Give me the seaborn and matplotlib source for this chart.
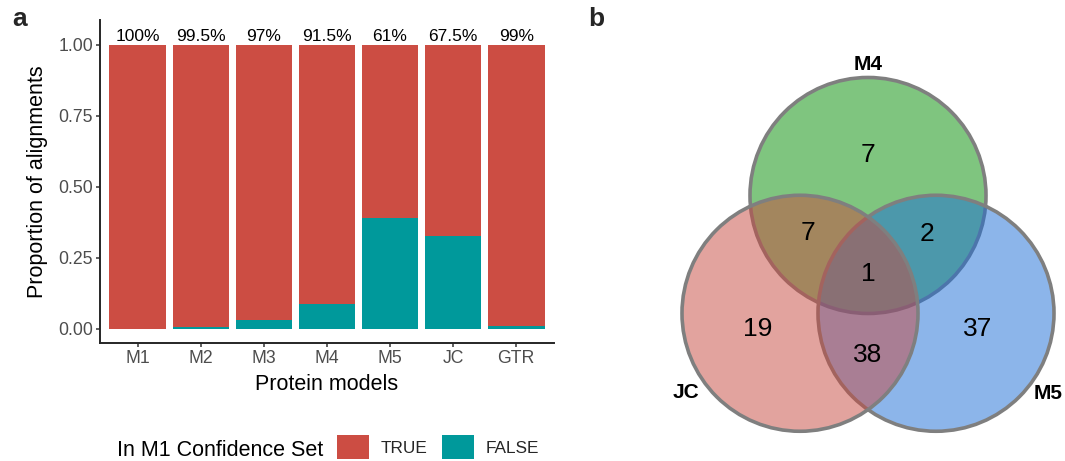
import numpy as np
import pandas as pd
import matplotlib
matplotlib.use("Agg")
import matplotlib.pyplot as plt
from matplotlib.patches import Patch, Circle
import seaborn as sns

# ---- panel a data: share of alignments inside the M1 confidence set ----
models = ["M1", "M2", "M3", "M4", "M5", "JC", "GTR"]
true_pct = [100, 99.5, 97, 91.5, 61, 67.5, 99]

# ---- panel b data: Venn region counts ----
set_names = ["M4", "JC", "M5"]
region_keys = ["M4", "JC&M4", "M4&M5", "all", "JC", "JC&M5", "M5"]
region_counts = [7, 7, 2, 1, 19, 38, 37]

COL_TRUE = "#CC4D43"
COL_FALSE = "#00999B"
VENN_FILLS = {"M4": "#008C00", "M5": "#1B6DD7", "JC": "#C7493F"}

sns.set_theme(style="ticks")
plt.rcParams["font.family"] = ["Liberation Sans", "DejaVu Sans"]

W, H = 1065, 461
fig = plt.figure(figsize=(W / 100, H / 100), dpi=100)

# ================= panel a =================
df = pd.DataFrame({
    "model": models,
    "true": np.array(true_pct) / 100.0,
})
df["false"] = 1.0 - df["true"]
df["total"] = df["true"] + df["false"]

ax = fig.add_axes([100 / W, 1 - 343 / H, 454 / W, 323 / H])
sns.barplot(data=df, x="model", y="total", color=COL_TRUE, width=0.9,
            saturation=1, errorbar=None, ax=ax, order=models)
sns.barplot(data=df, x="model", y="false", color=COL_FALSE, width=0.9,
            saturation=1, errorbar=None, ax=ax, order=models)
for p in ax.patches:
    p.set_linewidth(0)

for i, v in enumerate(true_pct):
    ax.text(i, 1.014, f"{v:g}%", ha="center", va="baseline",
            fontsize=12.5, color="black")

ax.set_xlim(-0.6, len(models) - 0.4)
ax.set_ylim(-0.051, 1.088)
ax.set_yticks([0, 0.25, 0.5, 0.75, 1.0])
ax.set_yticklabels(["0.00", "0.25", "0.50", "0.75", "1.00"])
sns.despine(ax=ax)
for s in ["left", "bottom"]:
    ax.spines[s].set_linewidth(1.4)
    ax.spines[s].set_color("#262626")
ax.tick_params(axis="both", length=3, width=1.1, color="#333333",
               labelsize=12.7, labelcolor="#4D4D4D", pad=2)
ax.set_xlabel("Protein models", fontsize=15.5, color="black")
ax.set_ylabel("Proportion of alignments", fontsize=15.5, color="black")
ax.xaxis.set_label_coords(0.5, -0.097)
ax.yaxis.set_label_coords(-0.1145, 0.5)

# legend below panel a
fig.text(323 / W, 1 - 456 / H, "In M1 Confidence Set", ha="right",
         va="baseline", fontsize=15.5, color="black")
handles = [Patch(facecolor=COL_TRUE, edgecolor="none", label="TRUE"),
           Patch(facecolor=COL_FALSE, edgecolor="none", label="FALSE")]
fig.legend(handles=handles, loc="center left",
           bbox_to_anchor=(337 / W, 1 - 447 / H), ncol=2, frameon=False,
           fontsize=12.4, handlelength=1.86, handleheight=1.74,
           handletextpad=0.7, columnspacing=0.8, borderpad=0,
           borderaxespad=0)

fig.text(12 / W, 1 - 26 / H, "a", fontsize=19, fontweight="bold",
         ha="left", va="baseline")
fig.text(588 / W, 1 - 26 / H, "b", fontsize=19, fontweight="bold",
         ha="left", va="baseline")

# ================= panel b =================
vx = fig.add_axes([600 / W, 0, 465 / W, 1])
vx.set_xlim(600, 1065)
vx.set_ylim(H, 0)
vx.axis("off")

cx, cy = 868, 274          # centroid of the three circle centres
d, r = 136, 118            # centre spacing and radius
centres = {
    "M4": (cx, cy - d / np.sqrt(3)),
    "JC": (cx - d / 2, cy + d / (2 * np.sqrt(3))),
    "M5": (cx + d / 2, cy + d / (2 * np.sqrt(3))),
}
for name in ["M4", "M5", "JC"]:
    vx.add_patch(Circle(centres[name], r,
                        facecolor=matplotlib.colors.to_rgba(VENN_FILLS[name], 0.5),
                        edgecolor="#7F7F7F", linewidth=2.6))

region_pos = {
    "M4": (0, -119), "JC&M4": (-60, -41), "M4&M5": (59, -40),
    "all": (0, 0), "JC": (-110, 55), "JC&M5": (0, 81), "M5": (110, 55),
}
for key, n in zip(region_keys, region_counts):
    ox, oy = region_pos[key]
    vx.text(cx + ox, cy + oy, str(n), ha="center", va="center",
            fontsize=19, color="black")

label_pos = {"M4": (0, -209), "JC": (-182, 118), "M5": (180, 119)}
for name in set_names:
    ox, oy = label_pos[name]
    vx.text(cx + ox, cy + oy, name, ha="center", va="center",
            fontsize=15, fontweight="bold", color="black")

fig.savefig("out.png", dpi=100)
